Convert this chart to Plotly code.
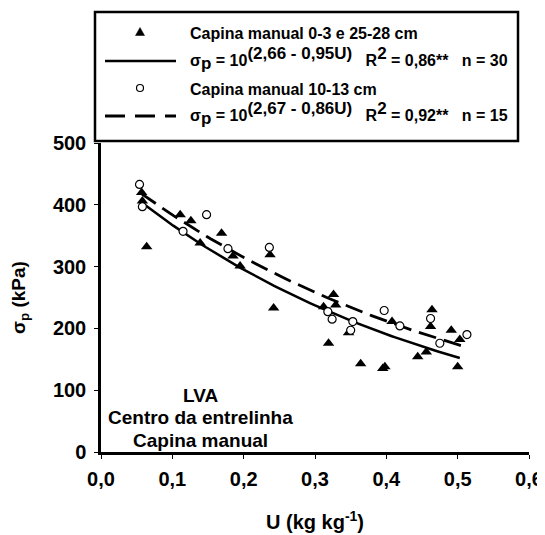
import numpy as np
import plotly.graph_objects as go

# Data
u_tri = [0.057, 0.058, 0.064, 0.111, 0.126, 0.139, 0.169, 0.185, 0.195, 0.237, 0.242, 0.312, 0.319,
         0.326, 0.329, 0.347, 0.364, 0.395, 0.398, 0.408, 0.444, 0.456, 0.462, 0.464, 0.491, 0.500, 0.503]
s_tri = [420, 406, 332, 384, 374, 338, 354, 317, 301, 319, 233, 235, 176,
         255, 238, 193, 143, 135, 138, 211, 154, 162, 203, 230, 197, 138, 182]
u_circ = [0.054, 0.058, 0.115, 0.148, 0.178, 0.236, 0.318, 0.324, 0.350, 0.353, 0.397, 0.419, 0.462, 0.475, 0.513]
s_circ = [433, 397, 357, 384, 329, 331, 227, 215, 197, 211, 229, 204, 216, 176, 190]

# Fitted equations (from legend)
fit1 = {"a": 2.66, "b": 0.95, "umin": 0.056, "umax": 0.503}
fit2 = {"a": 2.67, "b": 0.86, "umin": 0.056, "umax": 0.512}

x_ticks = [0.0, 0.1, 0.2, 0.3, 0.4, 0.5, 0.6]
y_ticks = [0, 100, 200, 300, 400, 500]

FONT = "Liberation Sans, Arial, sans-serif"

def curve(f):
    u = np.linspace(f["umin"], f["umax"], 80)
    return u, 10 ** (f["a"] - f["b"] * u)

fig = go.Figure()
u1, s1 = curve(fit1)
u2, s2 = curve(fit2)
fig.add_trace(go.Scatter(x=u2, y=s2, mode="lines", line=dict(color="black", width=2.8, dash="18px,8px"), showlegend=False))
fig.add_trace(go.Scatter(x=u1, y=s1, mode="lines", line=dict(color="black", width=2.5), showlegend=False))
fig.add_trace(go.Scatter(x=u_tri, y=s_tri, mode="markers",
                         marker=dict(symbol="triangle-up", size=10, color="black"), showlegend=False))
fig.add_trace(go.Scatter(x=u_circ, y=s_circ, mode="markers",
                         marker=dict(symbol="circle", size=8, color="white", line=dict(color="black", width=1.2)),
                         showlegend=False))

# page body has an 8px margin: figure is placed at (8, 8)
OFF = 8
PL, PR, PT, PB = 101, 529, 143, 452   # plot-area edges in screen pixels
W, H = 545 - OFF, 535 - OFF
L, T = PL - OFF, PT - OFF
R, B = 545 - PR, 535 - PB
PW, PH = PR - PL, PB - PT

def px(x):
    return (x - PL) / PW

def py(y):
    return (PB - y) / PH

shapes = []
# legend box
shapes.append(dict(type="rect", xref="paper", yref="paper", x0=px(95), x1=px(518), y0=py(141), y1=py(12),
                   line=dict(color="black", width=2.5), fillcolor="white", layer="above"))
# legend samples
shapes.append(dict(type="line", xref="paper", yref="paper", x0=px(105), x1=px(176), y0=py(61), y1=py(61),
                   line=dict(color="black", width=2.5)))
shapes.append(dict(type="line", xref="paper", yref="paper", x0=px(105), x1=px(176), y0=py(116), y1=py(116),
                   line=dict(color="black", width=2.8, dash="20px,10px")))
shapes.append(dict(type="path", xref="paper", yref="paper", xsizemode="pixel", ysizemode="pixel",
                   xanchor=px(140), yanchor=py(32), path="M -4.5,-3.5 L 4.5,-3.5 L 0,4.5 Z",
                   fillcolor="black", line=dict(color="black", width=0.5)))
shapes.append(dict(type="circle", xref="paper", yref="paper", xsizemode="pixel", ysizemode="pixel",
                   xanchor=px(140), yanchor=py(88), x0=-3.5, x1=3.5, y0=-3.5, y1=3.5,
                   fillcolor="white", line=dict(color="black", width=1.2)))

def big(s):
    return '<span style="font-size:17px">' + s + '</span>'

SP3 = "&nbsp;&nbsp;&nbsp;"
eq1 = ("σ<sub>" + big("p") + "</sub> = 10<sup>" + big("(2,66 - 0,95U)") + "</sup>" + SP3 +
       "R<sup>" + big("2") + "</sup> = 0,86**" + SP3 + "n = 30")
eq2 = ("σ<sub>" + big("p") + "</sub> = 10<sup>" + big("(2,67 - 0,86U)") + "</sup>" + SP3 +
       "R<sup>" + big("2") + "</sup> = 0,92**" + SP3 + "n = 15")

annotations = []
leg_font = dict(family=FONT, size=16, color="black", weight="bold")
for txt, yy in [("Capina manual 0-3 e 25-28 cm", 33), (eq1, 58), ("Capina manual 10-13 cm", 89), (eq2, 114)]:
    annotations.append(dict(text=txt, xref="paper", yref="paper", x=px(188), y=py(yy), xanchor="left",
                            yanchor="middle", showarrow=False, font=leg_font))

in_font = dict(family=FONT, size=19, color="black", weight="bold")
for txt, yy in [("LVA", 395), ("Centro da entrelinha", 417), ("Capina manual", 440)]:
    annotations.append(dict(text=txt, xref="paper", yref="paper", x=px(200), y=py(yy), xanchor="center",
                            yanchor="middle", showarrow=False, font=in_font))

fig.update_layout(
    width=W, height=H, margin=dict(l=L, r=R, t=T, b=B, pad=0, autoexpand=False),
    paper_bgcolor="white", plot_bgcolor="white",
    separators=",.",
    shapes=shapes, annotations=annotations,
    showlegend=False,
    font=dict(family=FONT, color="black"),
)
fig.update_xaxes(range=[0, 0.6], tickvals=x_ticks, tickformat=".1f", showgrid=False, zeroline=False,
                 showline=True, linecolor="black", linewidth=2.5, ticks="outside", ticklen=4, tickwidth=1,
                 tickcolor="black", ticklabelstandoff=3,
                 tickfont=dict(family=FONT, size=20, color="black", weight="bold"),
                 title=dict(text="U (kg kg<sup>-1</sup>)", font=dict(family=FONT, size=20, color="black", weight="bold"),
                            standoff=27))
fig.update_yaxes(range=[0, 500], tickvals=y_ticks, showgrid=False, zeroline=False,
                 showline=True, linecolor="black", linewidth=2.5, ticks="outside", ticklen=4, tickwidth=1,
                 tickcolor="black", ticklabelstandoff=4,
                 tickfont=dict(family=FONT, size=20, color="black", weight="bold"),
                 title=dict(text="σ<sub>p</sub> (kPa)", font=dict(family=FONT, size=19, color="black", weight="bold"),
                            standoff=25))

fig.write_html("out.html")
